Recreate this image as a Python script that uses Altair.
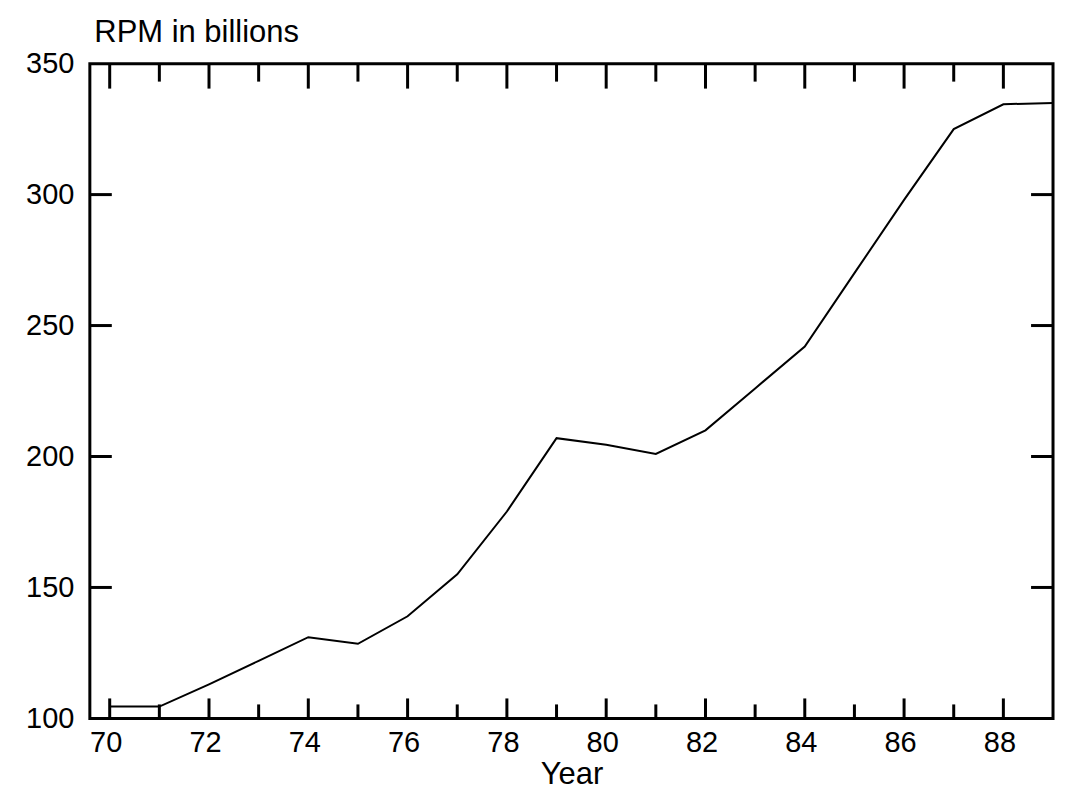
import altair as alt
import pandas as pd

years = list(range(70, 90))
rpm = [104.5, 104.5, 113, 122, 131, 128.5, 139, 155, 179, 207,
       204.5, 201, 210, 226, 242, 270, 298, 325, 334.5, 335]

x_label_values = [70, 72, 74, 76, 78, 80, 82, 84, 86, 88]
y_label_values = [100, 150, 200, 250, 300, 350]
y_tick_values = [150, 200, 250, 300]
even_year_ticks = [70, 72, 74, 76, 78, 80, 82, 84, 86, 88]
odd_year_ticks = [71, 73, 75, 77, 79, 81, 83, 85, 87]

W, H = 965, 656
FONT = "Liberation Sans"

df = pd.DataFrame({"year": years, "rpm": rpm})
even_df = pd.DataFrame({"year": even_year_ticks})
odd_df = pd.DataFrame({"year": odd_year_ticks})
yt_df = pd.DataFrame({"rpm": y_tick_values})

xs = alt.Scale(domain=[69.6, 89], nice=False, zero=False)
ys = alt.Scale(domain=[100, 350], nice=False, zero=False)

x_axis = alt.Axis(values=x_label_values, ticks=False, domain=False, grid=False,
                  labelFontSize=29, labelPadding=10, labelOffset=-4, title="Year",
                  titleFontSize=31, titleFontWeight="normal", titlePadding=2)
y_axis = alt.Axis(values=y_label_values, ticks=False, domain=False, grid=False,
                  labelFontSize=29, labelPadding=16, title="RPM in billions",
                  titleAngle=0, titleAlign="left", titleBaseline="middle",
                  titleX=4, titleY=-31, titleFontSize=31, titleFontWeight="normal")

line = alt.Chart(df).mark_line(color="black", strokeWidth=2).encode(
    x=alt.X("year:Q", scale=xs, axis=x_axis),
    y=alt.Y("rpm:Q", scale=ys, axis=y_axis),
)

tick_style = dict(color="black", strokeWidth=3)

bottom_even = alt.Chart(even_df).mark_rule(**tick_style).encode(
    x=alt.X("year:Q", scale=xs, axis=x_axis), y=alt.value(H), y2=alt.value(H - 20))
bottom_odd = alt.Chart(odd_df).mark_rule(**tick_style).encode(
    x=alt.X("year:Q", scale=xs, axis=x_axis), y=alt.value(H), y2=alt.value(H - 14))
top_even = alt.Chart(even_df).mark_rule(**tick_style).encode(
    x=alt.X("year:Q", scale=xs, axis=x_axis), y=alt.value(0), y2=alt.value(25))
top_odd = alt.Chart(odd_df).mark_rule(**tick_style).encode(
    x=alt.X("year:Q", scale=xs, axis=x_axis), y=alt.value(0), y2=alt.value(18))
left_ticks = alt.Chart(yt_df).mark_rule(**tick_style).encode(
    y=alt.Y("rpm:Q", scale=ys, axis=y_axis), x=alt.value(0), x2=alt.value(22))
right_ticks = alt.Chart(yt_df).mark_rule(**tick_style).encode(
    y=alt.Y("rpm:Q", scale=ys, axis=y_axis), x=alt.value(W), x2=alt.value(W - 22))

chart = alt.layer(line, bottom_even, bottom_odd, top_even, top_odd, left_ticks, right_ticks).properties(
    width=W, height=H,
    autosize=alt.AutoSizeParams(type="none"),
    padding={"left": 82, "top": 55, "right": 10, "bottom": 80},
    background="white",
).configure_view(stroke="black", strokeWidth=3).configure_axis(
    labelFont=FONT, titleFont=FONT, labelColor="black", titleColor="black"
)

chart.save("out.html", embed_options={"renderer": "svg", "actions": False})
